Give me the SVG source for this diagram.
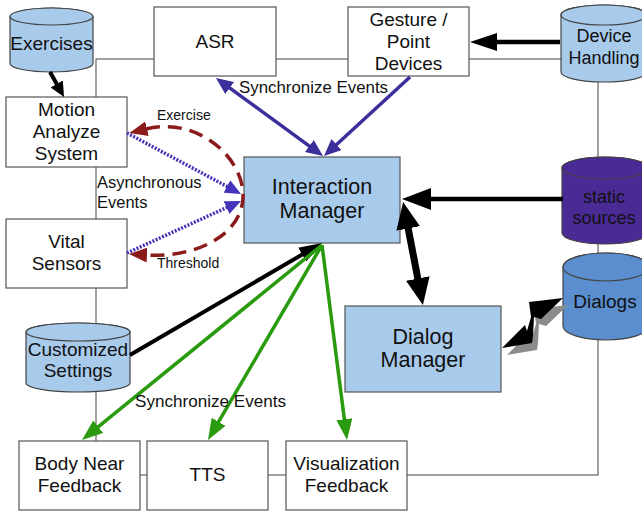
<svg xmlns="http://www.w3.org/2000/svg" width="642" height="511" viewBox="0 0 642 511">
  <style>
    .box { fill: #ffffff; stroke: #555555; stroke-width: 1.2; }
    .mgr { fill: #a8caeb; stroke: #555555; stroke-width: 1.2; }
    .cyl { fill: #a8caeb; stroke: #444444; stroke-width: 1.2; }
    .cyl-purple { fill: #4a2a95; stroke: #444444; stroke-width: 1.2; }
    .cyl-blue { fill: #5a8ecf; stroke: #444444; stroke-width: 1.2; }
    .frame { fill: none; stroke: #555555; stroke-width: 1.1; }
    text { font-family: "Liberation Sans", Arial, sans-serif; fill: #111111; text-anchor: middle; }
    .t19 { font-size: 19px; }
    .t21 { font-size: 21.5px; }
    .t18 { font-size: 18px; }
    .lbl { font-size: 16.5px; text-anchor: start; }
    .lbl-sm { font-size: 14px; text-anchor: start; }
    .blk { fill: none; stroke: #000000; }
    .blue { fill: none; stroke: #3b2f9c; stroke-width: 3.5; }
    .dot { fill: none; stroke: #4433bb; stroke-width: 3.5; stroke-dasharray: 2 1.5; }
    .red { fill: none; stroke: #8b1b1b; stroke-width: 3.5; stroke-dasharray: 14 8; }
    .green { fill: none; stroke: #2a9a0e; stroke-width: 3.5; }
  </style>
  <defs>
    <marker id="mBlkDev" markerUnits="userSpaceOnUse" markerWidth="27" markerHeight="18" refX="1" refY="9" orient="auto-start-reverse"><path d="M0,0 L27,9 L0,18 z" fill="#000"/></marker>
    <marker id="mBlkStat" markerUnits="userSpaceOnUse" markerWidth="29" markerHeight="22" refX="1" refY="11" orient="auto-start-reverse"><path d="M0,0 L29,11 L0,22 z" fill="#000"/></marker>
    <marker id="mBlkBig" markerUnits="userSpaceOnUse" markerWidth="27" markerHeight="24" refX="1" refY="12" orient="auto-start-reverse"><path d="M0,0 L27,12 L0,24 z" fill="#000"/></marker>
    <marker id="mBlkMed" markerUnits="userSpaceOnUse" markerWidth="23" markerHeight="16" refX="1" refY="8" orient="auto-start-reverse"><path d="M0,0 L23,8 L0,16 z" fill="#000"/></marker>
    <marker id="mBlkSm" markerUnits="userSpaceOnUse" markerWidth="15" markerHeight="14" refX="1" refY="7" orient="auto-start-reverse"><path d="M0,0 L15,7 L0,14 z" fill="#000"/></marker>
    <marker id="mBlue" markerUnits="userSpaceOnUse" markerWidth="17" markerHeight="15" refX="1" refY="7.5" orient="auto-start-reverse"><path d="M0,0 L17,7.5 L0,15 z" fill="#3b2f9c"/></marker>
    <marker id="mDot" markerUnits="userSpaceOnUse" markerWidth="16" markerHeight="14" refX="1" refY="7" orient="auto-start-reverse"><path d="M0,0 L16,7 L0,14 z" fill="#4433bb"/></marker>
    <marker id="mRed" markerUnits="userSpaceOnUse" markerWidth="18" markerHeight="15" refX="1" refY="7.5" orient="auto-start-reverse"><path d="M0,0 L18,7.5 L0,15 z" fill="#8b1b1b"/></marker>
    <marker id="mGreen" markerUnits="userSpaceOnUse" markerWidth="21" markerHeight="16" refX="1" refY="8" orient="auto-start-reverse"><path d="M0,0 L21,8 L0,16 z" fill="#2a9a0e"/></marker>
    <!-- lightning-style double arrow between dialog manager and dialog store -->
    <path id="bolt" d="M502,348 L525,325 L527,331 L531,317 L529,302 L563,298 L541,319 L534,317 L533,336 L532,343 Z"/>
  </defs>

  <!-- thin bus frame linking the outer components -->
  <rect class="frame" x="96" y="59" width="502" height="416"/>

  <!-- nodes -->
  <g id="exercises">
    <path class="cyl" d="M10,16.5 V63.5 A41.5,8.5 0 0 0 93,63.5 V16.5 A41.5,8.5 0 0 0 10,16.5 Z"/>
    <ellipse class="cyl" cx="51.5" cy="16.5" rx="41.5" ry="8.5"/>
    <text class="t19" x="51.5" y="50">Exercises</text>
  </g>
  <g id="asr">
    <rect class="box" x="154" y="7" width="122" height="69"/>
    <text class="t19" x="215" y="48">ASR</text>
  </g>
  <g id="gesture">
    <rect class="box" x="348" y="7" width="121" height="69"/>
    <text class="t19" x="408.5" y="26">Gesture /</text>
    <text class="t19" x="408.5" y="48">Point</text>
    <text class="t19" x="408.5" y="70">Devices</text>
  </g>
  <g id="device-handling">
    <path class="cyl" d="M561,15 V72 A43,10 0 0 0 647,72 V15 A43,10 0 0 0 561,15 Z"/>
    <ellipse class="cyl" cx="604" cy="15" rx="43" ry="10"/>
    <text class="t18" x="604" y="42">Device</text>
    <text class="t18" x="604" y="64">Handling</text>
  </g>
  <g id="motion">
    <rect class="box" x="6" y="97" width="121" height="70"/>
    <text class="t19" x="66.5" y="116">Motion</text>
    <text class="t19" x="66.5" y="138">Analyze</text>
    <text class="t19" x="66.5" y="160">System</text>
  </g>
  <g id="vital">
    <rect class="box" x="6" y="219" width="121" height="69"/>
    <text class="t19" x="66.5" y="248">Vital</text>
    <text class="t19" x="66.5" y="270">Sensors</text>
  </g>
  <g id="interaction-manager">
    <rect class="mgr" x="244" y="157" width="156" height="86"/>
    <text class="t21" x="322" y="194">Interaction</text>
    <text class="t21" x="322" y="218">Manager</text>
  </g>
  <g id="static-sources">
    <path class="cyl-purple" d="M562,168 V233 A43,11 0 0 0 648,233 V168 A43,11 0 0 0 562,168 Z"/>
    <ellipse class="cyl-purple" cx="605" cy="168" rx="43" ry="11"/>
    <text class="t18" x="604" y="203">static</text>
    <text class="t18" x="604" y="224">sources</text>
  </g>
  <g id="dialogs">
    <path class="cyl-blue" d="M563,267 V326 A43,14 0 0 0 649,326 V267 A43,14 0 0 0 563,267 Z"/>
    <ellipse class="cyl-blue" cx="606" cy="267" rx="43" ry="14"/>
    <text class="t19" x="605" y="308">Dialogs</text>
  </g>
  <g id="dialog-manager">
    <rect class="mgr" x="345" y="306" width="156" height="86"/>
    <text class="t21" x="423" y="344">Dialog</text>
    <text class="t21" x="423" y="367">Manager</text>
  </g>
  <g id="customized-settings">
    <path class="cyl" d="M26,332 V383 A52,9 0 0 0 130,383 V332 A52,9 0 0 0 26,332 Z"/>
    <ellipse class="cyl" cx="78" cy="332" rx="52" ry="9"/>
    <text class="t19" x="78" y="356">Customized</text>
    <text class="t19" x="78" y="377">Settings</text>
  </g>
  <g id="body-near">
    <rect class="box" x="19" y="441" width="121" height="69"/>
    <text class="t19" x="79.5" y="470">Body Near</text>
    <text class="t19" x="79.5" y="492">Feedback</text>
  </g>
  <g id="tts">
    <rect class="box" x="147" y="441" width="121" height="69"/>
    <text class="t19" x="207.5" y="481">TTS</text>
  </g>
  <g id="visualization">
    <rect class="box" x="286" y="441" width="121" height="69"/>
    <text class="t19" x="346.5" y="470">Visualization</text>
    <text class="t19" x="346.5" y="492">Feedback</text>
  </g>

  <!-- connectors -->
  <g id="connectors">
    <path class="blk" stroke-width="4.5" d="M560,42 L496,42" marker-end="url(#mBlkDev)"/>
    <path class="blk" stroke-width="4" d="M50,72 L57.2,84.8" marker-end="url(#mBlkSm)"/>
    <path class="blue" d="M228.9,87.4 L310.1,146.6" marker-start="url(#mBlue)" marker-end="url(#mBlue)"/>
    <path class="blue" d="M410,77 L335.8,145.2" marker-end="url(#mBlue)"/>
    <path class="dot" d="M127,133 L227.8,186.9" marker-end="url(#mDot)"/>
    <path class="dot" d="M127,253 L227.4,207.2" marker-end="url(#mDot)"/>
    <path class="red" d="M146,129 C200,116 245,160 243,198 C241,236 195,258 146,255" marker-start="url(#mRed)" marker-end="url(#mRed)"/>
    <path class="blk" stroke-width="4.5" d="M563,199 L430,199" marker-end="url(#mBlkStat)"/>
    <path class="blk" stroke-width="7" d="M408,227.5 L418,279.5" marker-start="url(#mBlkBig)" marker-end="url(#mBlkBig)"/>
    <use href="#bolt" fill="#8c8c8c" transform="translate(5,7)"/>
    <use href="#bolt" fill="#000000"/>
    <path class="blk" stroke-width="4" d="M130,355 L303,254.1" marker-end="url(#mBlkMed)"/>
    <path class="green" d="M322,245 L97.5,427.4" marker-end="url(#mGreen)"/>
    <path class="green" d="M322,245 L218.1,422.7" marker-end="url(#mGreen)"/>
    <path class="green" d="M322,245 L344.5,420.2" marker-end="url(#mGreen)"/>
  </g>

  <!-- connector labels -->
  <text class="lbl" x="239" y="93" textLength="149" lengthAdjust="spacingAndGlyphs">Synchronize Events</text>
  <text class="lbl" x="135" y="407" textLength="151" lengthAdjust="spacingAndGlyphs">Synchronize Events</text>
  <text class="lbl" x="97" y="188">Asynchronous</text>
  <text class="lbl" x="97" y="208">Events</text>
  <text class="lbl-sm" x="157" y="120">Exercise</text>
  <text class="lbl-sm" x="157" y="268">Threshold</text>
</svg>
